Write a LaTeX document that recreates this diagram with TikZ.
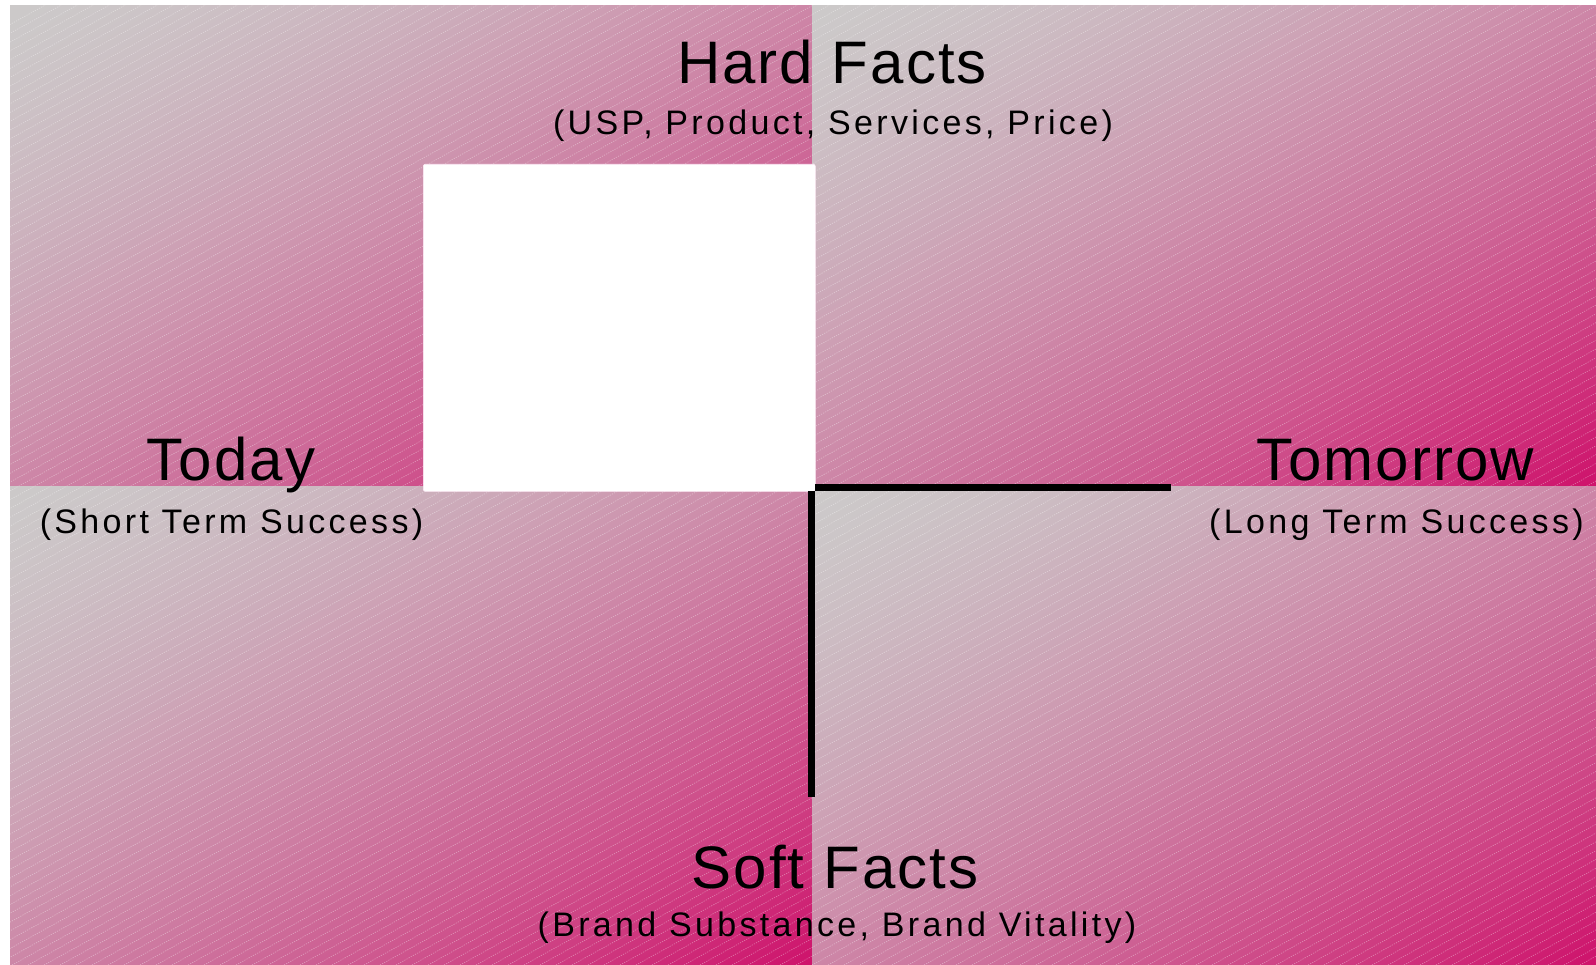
\documentclass[tikz,border=0pt]{standalone}
\usepackage{fontspec}
\setmainfont{Liberation Sans}
\newfontfamily\titlefont[LetterSpace=3.4]{Liberation Sans}
\newfontfamily\subfont[LetterSpace=9.8]{Liberation Sans}
\pgfdeclarefunctionalshading{quadgrad}{\pgfpoint{0bp}{0bp}}{\pgfpoint{100bp}{100bp}}{}{
 sub 50 add 100 div
 dup 0 lt {pop 0} if
 dup 1 gt {pop 1} if
 1.45 exp
 dup 0.01 mul 0.80 add exch
 dup -0.72 mul 0.79 add exch
 -0.37 mul 0.79 add
}
\tikzset{
  quad/.style={shading=quadgrad},
  hatch/.style={white, opacity=0.35, line width=0.7pt, dash pattern=on 1.2pt off 1.2pt},
  ttl/.style={anchor=base, inner sep=0pt, font=\titlefont\fontsize{60}{70}\selectfont},
  sub/.style={anchor=base, inner sep=0pt, font=\subfont\fontsize{34}{40}\selectfont},
  whitebox/.style={fill=white, draw=white!92!magenta, line width=0.6pt, rounded corners=2pt, inner sep=0pt, minimum width=392pt, minimum height=327pt, anchor=north west},
  axisline/.style={line width=7pt, black, line cap=butt}
}
\begin{document}
\begin{tikzpicture}[x=1pt,y=-1pt]
\useasboundingbox (0,0) rectangle (1596,965);
% quadrants
\shade[quad] (10,6) rectangle (812,486);
\shade[quad] (812,6) rectangle (1596,486);
\shade[quad] (10,486) rectangle (812,965);
\shade[quad] (812,486) rectangle (1596,965);
% hatching
\begin{scope}
\clip (10,6) rectangle (1596,965);
\foreach \i in {-1700,-1684,...,1600} {
  \draw[hatch] (\i,965) -- ++(1800,-990);
}
\end{scope}
% white box
\node[whitebox] (box) at (423,164) {};
% axis lines
\coordinate (vtop) at (811.5,491);
\coordinate (vbot) at (811.5,797);
\coordinate (hleft) at (815,487.5);
\coordinate (hright) at (1171,487.5);
\draw[axisline] (vtop) -- (vbot);
\draw[axisline] (hleft) -- (hright);
% texts
\node[ttl] (hard) at (832,83.5) {Hard Facts};
\node[sub] (hardsub) at (833,134.5) {(USP, Product, Services, Price)};
\node[ttl] (today) at (231,480.5) {Today};
\node[sub] (todaysub) at (231.5,533) {(Short Term Success)};
\node[ttl] (tomorrow) at (1395,480.5) {Tomorrow};
\node[sub] (tomorrowsub) at (1396.5,533) {(Long Term Success)};
\node[ttl] (soft) at (835,888.5) {Soft Facts};
\node[sub] (softsub) at (837,936.5) {(Brand Substance, Brand Vitality)};
\end{tikzpicture}
\end{document}
